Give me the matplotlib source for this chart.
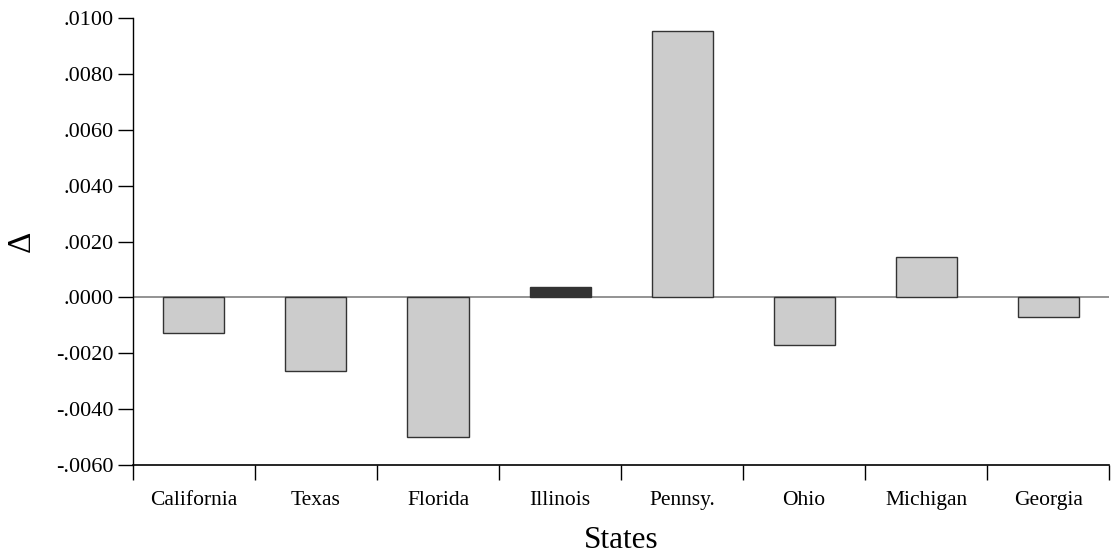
import matplotlib
matplotlib.use("Agg")
import matplotlib.pyplot as plt
from matplotlib.ticker import FuncFormatter, FixedLocator, NullFormatter
import numpy as np

states = ["California", "Texas", "Florida", "Illinois", "Pennsy.", "Ohio", "Michigan", "Georgia"]
delta = [-0.00127, -0.00265, -0.00499, 0.00037, 0.00955, -0.00170, 0.00143, -0.00071]
bar_colors = ["#cccccc", "#cccccc", "#cccccc", "#333333", "#cccccc", "#cccccc", "#cccccc", "#cccccc"]
y_ticks = [-0.006, -0.004, -0.002, 0.0, 0.002, 0.004, 0.006, 0.008, 0.010]

plt.rcParams['font.family'] = ['Liberation Serif', 'DejaVu Serif']

fig = plt.figure(figsize=(11.17, 5.58), dpi=100)
ax = fig.add_axes([0.119, 0.1667, 0.874, 0.801])

x = np.arange(len(states))
ax.bar(x, delta, width=0.5, color=bar_colors, edgecolor="#333333", linewidth=1.0, zorder=3)
ax.axhline(0, color="#808080", linewidth=1.2, zorder=2)

ax.set_xlim(-0.5, len(states) - 0.5)
ax.set_ylim(-0.006, 0.010)

def yfmt(v, pos):
    s = "%.4f" % v
    if s.startswith("-0"):
        s = "-" + s[2:]
    elif s.startswith("0"):
        s = s[1:]
    if s == "-.0000":
        s = ".0000"
    return s

ax.yaxis.set_major_locator(FixedLocator(y_ticks))
ax.yaxis.set_major_formatter(FuncFormatter(yfmt))

ax.xaxis.set_major_locator(FixedLocator(np.arange(len(states) + 1) - 0.5))
ax.xaxis.set_major_formatter(NullFormatter())
ax.xaxis.set_minor_locator(FixedLocator(x))
ax.set_xticklabels(states, minor=True)
ax.tick_params(axis='x', which='minor', length=0, pad=18.5, labelsize=15.5)
ax.tick_params(axis='x', which='major', length=11, width=1, direction='out', color='black')
ax.tick_params(axis='y', which='major', length=11, width=1, direction='out', pad=3, labelsize=16)

for s in ["top", "right"]:
    ax.spines[s].set_visible(False)
ax.spines["left"].set_color("black")
ax.spines["bottom"].set_color("black")
ax.spines["left"].set_linewidth(1)
ax.spines["bottom"].set_linewidth(1.2)

ax.set_xlabel("States", fontsize=22.5, labelpad=12)
ax.set_ylabel("Δ", fontsize=24, labelpad=14)

fig.savefig("out.png", dpi=100)
